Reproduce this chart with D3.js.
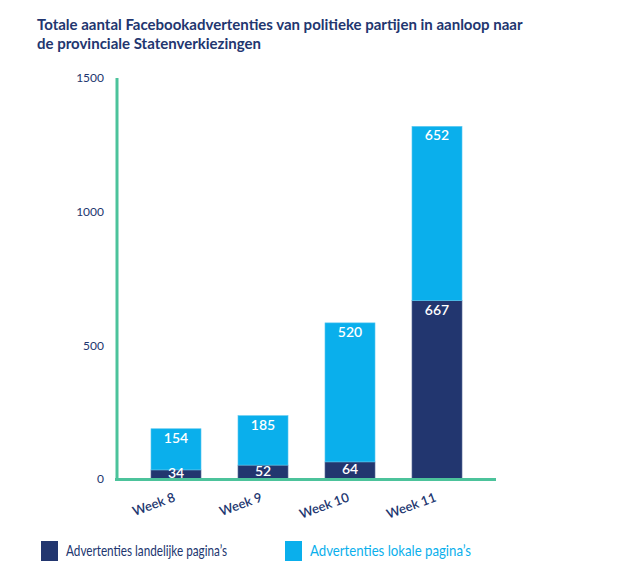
<!DOCTYPE html>
<html>
<head>
<meta charset="utf-8">
<script src="https://cdnjs.cloudflare.com/ajax/libs/d3/7.8.5/d3.min.js"></script>
<style>
  body { margin: 0; background: #fff; }
  svg { font-family: Lato, "Open Sans", sans-serif; }
</style>
</head>
<body>
<svg id="chart" width="620" height="580"></svg>
<script>
    // data
    var weeks = ["Week 8", "Week 9", "Week 10", "Week 11"];
    var landelijk = [34, 52, 64, 667];
    var lokaal = [154, 185, 520, 652];
    var yTicks = [0, 500, 1000, 1500];
    var seriesNames = ["Advertenties landelijke pagina\u2019s", "Advertenties lokale pagina\u2019s"];

    var navy = "#22366f";
    var blue = "#0aafec";
    var green = "#4cc39b";

    var svg = d3.select("#chart");

    var x = d3.scaleBand()
        .domain(weeks)
        .range([132.5, 480.5])
        .paddingInner(0.425)
        .paddingOuter(0.2125);

    var y = d3.scaleLinear()
        .domain([0, 1500])
        .range([479, 78]);

    // title
    var title = svg.append("text")
        .attr("x", 37)
        .attr("y", 30)
        .attr("fill", navy)
        .style("font-weight", "bold")
        .style("font-size", "15px");
    title.append("tspan").attr("x", 37).attr("y", 30)
        .text("Totale aantal Facebookadvertenties van politieke partijen in aanloop naar");
    title.append("tspan").attr("x", 37).attr("y", 49)
        .text("de provinciale Statenverkiezingen");

    // y tick labels
    svg.selectAll("text.ytick")
        .data(yTicks)
        .enter()
        .append("text")
        .attr("class", "ytick")
        .attr("x", 104)
        .attr("y", d => y(d))
        .attr("dy", "0.35em")
        .attr("text-anchor", "end")
        .attr("fill", navy)
        .style("font-size", "12px")
        .text(d => d);

    var rows = weeks.map((w, i) => ({ week: w, a: landelijk[i], b: lokaal[i] }));

    // dark bottom segment
    svg.selectAll("rect.land")
        .data(rows)
        .enter()
        .append("rect")
        .attr("class", "land")
        .attr("x", d => x(d.week))
        .attr("width", x.bandwidth())
        .attr("y", d => y(d.a))
        .attr("height", d => y(0) - y(d.a))
        .attr("fill", navy)
        .attr("stroke", "#5d6f9a")
        .attr("stroke-width", 0.6);

    // light top segment
    svg.selectAll("rect.lok")
        .data(rows)
        .enter()
        .append("rect")
        .attr("class", "lok")
        .attr("x", d => x(d.week))
        .attr("width", x.bandwidth())
        .attr("y", d => y(d.a + d.b))
        .attr("height", d => y(d.a) - y(d.a + d.b))
        .attr("fill", blue)
        .attr("stroke", "#5cc8f0")
        .attr("stroke-width", 0.6);

    function labelY(top, bottom) {
        return Math.min(top + 9, (top + bottom) / 2 - 1);
    }

    svg.selectAll("text.vland")
        .data(rows)
        .enter()
        .append("text")
        .attr("class", "vland")
        .attr("x", d => x(d.week) + x.bandwidth() / 2)
        .attr("y", d => labelY(y(d.a), y(0)))
        .attr("dy", "0.35em")
        .attr("text-anchor", "middle")
        .attr("fill", "#fff")
        .style("font-weight", "600")
        .style("font-size", "14px")
        .text(d => d.a);

    svg.selectAll("text.vlok")
        .data(rows)
        .enter()
        .append("text")
        .attr("class", "vlok")
        .attr("x", d => x(d.week) + x.bandwidth() / 2)
        .attr("y", d => labelY(y(d.a + d.b), y(d.a)))
        .attr("dy", "0.35em")
        .attr("text-anchor", "middle")
        .attr("fill", "#fff")
        .style("font-weight", "600")
        .style("font-size", "14px")
        .text(d => d.b);

    // axes lines
    svg.append("line")
        .attr("x1", 117).attr("x2", 117)
        .attr("y1", y(1500)).attr("y2", y(0) + 2)
        .attr("stroke", green).attr("stroke-width", 3);
    svg.append("line")
        .attr("x1", 115).attr("x2", 496)
        .attr("y1", y(0) + 0.5).attr("y2", y(0) + 0.5)
        .attr("stroke", green).attr("stroke-width", 3);

    // x labels, rotated
    svg.selectAll("text.xlab")
        .data(weeks)
        .enter()
        .append("text")
        .attr("class", "xlab")
        .attr("transform", d => "translate(" + (x(d) + x.bandwidth() / 2) + ",501) rotate(-20)")
        .attr("text-anchor", "end")
        .attr("fill", navy)
        .style("font-weight", "600")
        .style("font-size", "13px")
        .text(d => d);

    // legend
    var legX = [41, 285];
    var legColors = [navy, blue];
    var legWidth = [161, 161];
    seriesNames.forEach(function(name, i) {
        svg.append("rect")
            .attr("x", legX[i]).attr("y", 541)
            .attr("width", 17).attr("height", 20)
            .attr("fill", legColors[i]);
        svg.append("text")
            .attr("x", legX[i] + 25).attr("y", 556)
            .attr("fill", legColors[i])
            .attr("textLength", legWidth[i])
            .attr("lengthAdjust", "spacingAndGlyphs")
            .style("font-size", "15px")
            .text(name);
    });
</script>
</body>
</html>
